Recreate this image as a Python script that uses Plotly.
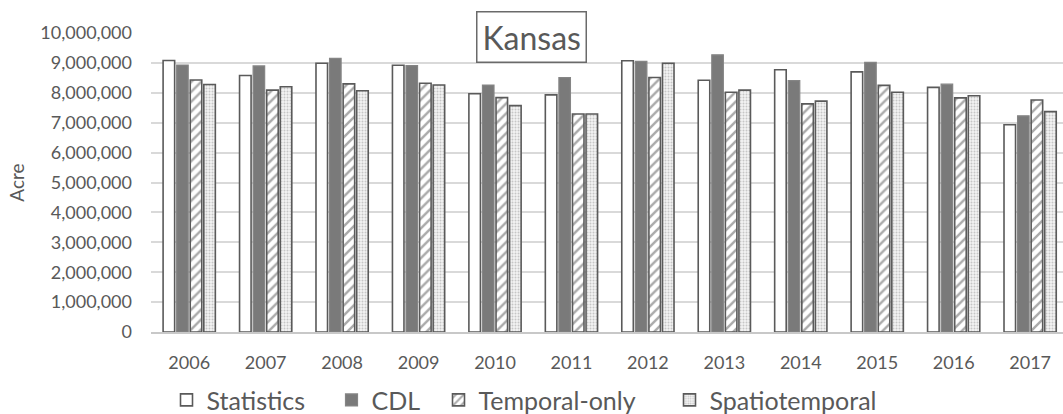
import plotly.graph_objects as go

# Kansas planted acreage by year, four estimation sources
years = ["2006", "2007", "2008", "2009", "2010", "2011",
         "2012", "2013", "2014", "2015", "2016", "2017"]
statistics = [9080000, 8580000, 8990000, 8920000, 7970000, 7930000,
              9070000, 8420000, 8770000, 8700000, 8180000, 6930000]
cdl = [8930000, 8900000, 9150000, 8910000, 8260000, 8510000,
       9050000, 9270000, 8410000, 9020000, 8290000, 7230000]
temporal_only = [8430000, 8090000, 8300000, 8320000, 7840000, 7290000,
                 8510000, 8020000, 7630000, 8250000, 7830000, 7760000]
spatiotemporal = [8280000, 8200000, 8070000, 8260000, 7570000, 7290000,
                  8990000, 8090000, 7720000, 8020000, 7900000, 7370000]

y_ticks = list(range(0, 10000001, 1000000))

FONT = "Lato"
TEXT = "#595959"
EDGE = "#5a5a5a"

fig = go.Figure()

fig.add_trace(go.Bar(
    name="Statistics", x=years, y=statistics,
    marker=dict(color="white", line=dict(color=EDGE, width=1.6)),
    legendwidth=120,
))
fig.add_trace(go.Bar(
    name="CDL", x=years, y=cdl,
    marker=dict(color="#7a7a7a", line=dict(color="#858585", width=1.2)),
    legendwidth=62,
))
fig.add_trace(go.Bar(
    name="Temporal-only", x=years, y=temporal_only,
    marker=dict(color="white", line=dict(color=EDGE, width=1.6),
                pattern=dict(shape="/", fgcolor="#555555", bgcolor="white",
                             size=7, solidity=0.35)),
    legendwidth=186,
))
fig.add_trace(go.Bar(
    name="Spatiotemporal", x=years, y=spatiotemporal,
    marker=dict(color="white", line=dict(color=EDGE, width=1.6),
                pattern=dict(shape=".", fgcolor="#9a9a9a", bgcolor="#f2f2f2",
                             size=3, solidity=0.35)),
))

fig.add_annotation(
    text="Kansas", xref="paper", yref="paper", x=0.4167, y=0.988,
    xanchor="center", yanchor="middle", showarrow=False,
    font=dict(family=FONT, size=32, color=TEXT),
    bgcolor="white", bordercolor="#6a6a6a", borderwidth=1.5, borderpad=5,
)

fig.update_layout(
    width=1063, height=414,
    margin=dict(l=151, r=0, t=33, b=82, autoexpand=False),
    paper_bgcolor="white", plot_bgcolor="white",
    barmode="group", bargap=0.29, bargroupgap=0.15,
    font=dict(family=FONT, color=TEXT, size=18),
    showlegend=True,
    legend=dict(
        orientation="h", x=0.017, xanchor="left", y=-0.228, yanchor="middle",
        font=dict(family=FONT, size=25, color=TEXT),
        itemwidth=30, bgcolor="rgba(0,0,0,0)",
    ),
    xaxis=dict(
        range=[-0.5, 11.43], showgrid=False, ticks="",
        showline=True, linecolor="#c8c8c8", linewidth=1.5,
        tickfont=dict(family=FONT, size=18, color=TEXT),
        ticklabelstandoff=14,
    ),
    yaxis=dict(
        range=[0, 10000000], tickvals=y_ticks, tickformat=",d",
        showgrid=True, gridcolor="#d9d9d9", gridwidth=1.5,
        zeroline=False, ticks="", showline=False,
        tickfont=dict(family=FONT, size=18, color=TEXT),
        ticklabelstandoff=18,
        title=dict(text="Acre", font=dict(family=FONT, size=19, color=TEXT),
                   standoff=10),
    ),
)

fig.write_html("out.html")
